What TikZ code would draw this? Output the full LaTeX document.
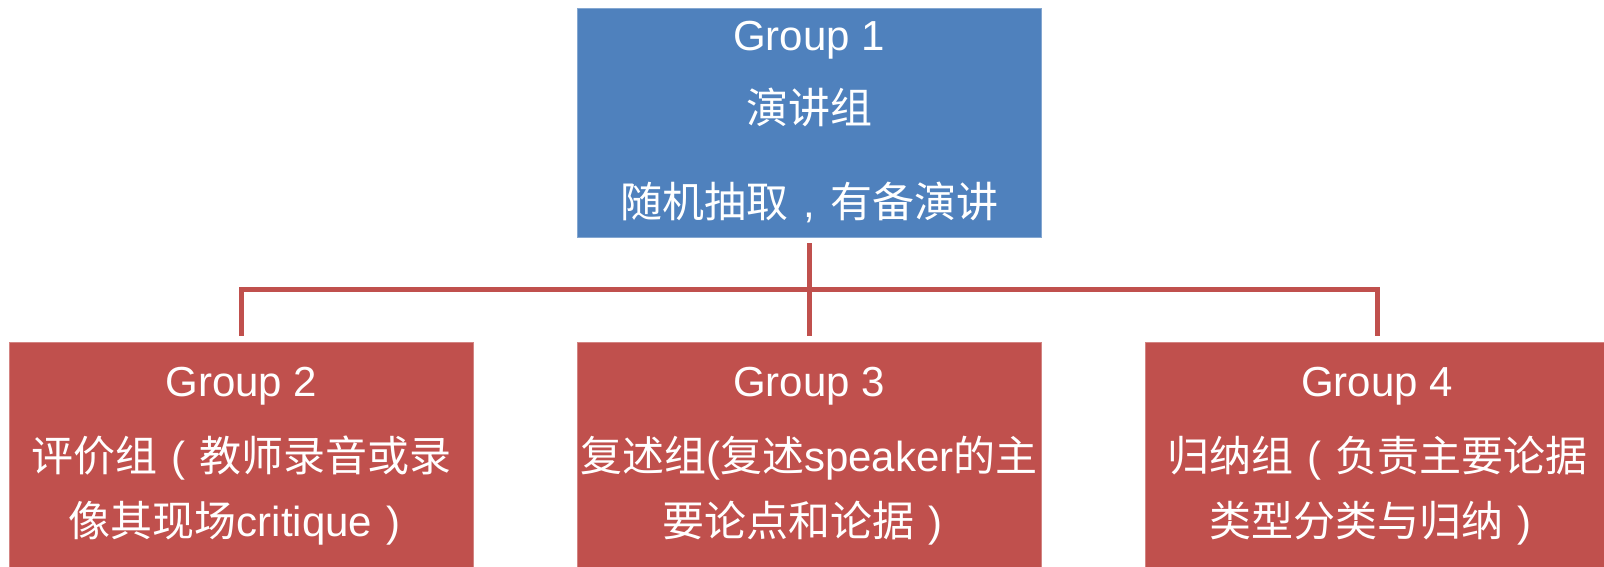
\documentclass[tikz,border=0pt]{standalone}
\usepackage{fontspec}
\setmainfont{Liberation Sans}
\newfontfamily\cjk{Noto Sans CJK SC}
\newcommand\fwpunct[1]{\makebox[42pt]{#1}}
\definecolor{groupblue}{HTML}{4F81BD}
\definecolor{groupred}{HTML}{C0504D}
\begin{document}
\begin{tikzpicture}[x=1pt,y=1pt,
        group/.style={rectangle, minimum width=464pt, minimum height=229pt, inner sep=0pt,
            align=center, text=white, font=\fontsize{42}{65}\selectfont},
        link/.style={draw=groupred, line width=5pt}]
            \useasboundingbox (0,0) rectangle (1604,567);

            \node[group, fill=groupblue, draw=groupblue!70!white] (G1) at (809,444.5)
                {Group 1\\[8pt]{\cjk 演讲组}\\[29pt]{\cjk 随机抽取}\fwpunct{,}{\cjk 有备演讲}};
            \node[group, fill=groupred, draw=groupred!70!white] (G2) at (241.5,110.5)
                {Group 2\\[10pt]{\cjk 评价组}\fwpunct{(}{\cjk 教师录音或录}\\{\cjk 像其现场}critique\fwpunct{)}};
            \node[group, fill=groupred, draw=groupred!70!white] (G3) at (809,110.5)
                {Group 3\\[10pt]{\cjk 复述组}({\cjk 复述}speaker{\cjk 的主}\\{\cjk 要论点和论据}\fwpunct{)}};
            \node[group, fill=groupred, draw=groupred!70!white] (G4) at (1377,110.5)
                {Group 4\\[10pt]{\cjk 归纳组}\fwpunct{(}{\cjk 负责主要论据}\\{\cjk 类型分类与归纳}\fwpunct{)}};

            \coordinate (bus) at (809,277.5);
            \draw[link] ([yshift=-6pt]G1.south) -- ([yshift=6pt]G3.north);
            \draw[link] ([yshift=6pt]G2.north) |- (bus) -| ([yshift=6pt]G4.north);
        \end{tikzpicture}
\end{document}
